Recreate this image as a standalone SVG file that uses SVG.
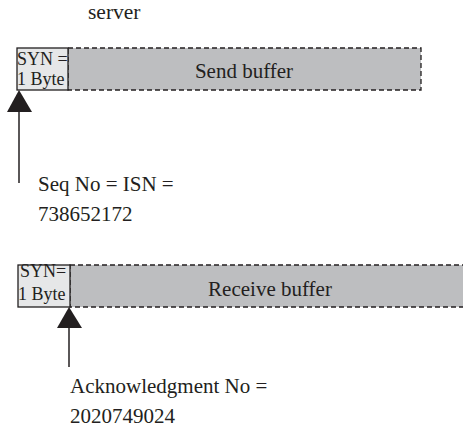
<svg xmlns="http://www.w3.org/2000/svg" width="463" height="429" viewBox="0 0 463 429">
<style>
.buf{fill:#bdbec0;stroke:#231f20;stroke-width:1.3;stroke-dasharray:5,3}
.syn{fill:#e6e7e8;stroke:#231f20;stroke-width:1.3}
.line{stroke:#231f20;stroke-width:1.5;fill:none}
.head{fill:#231f20}
</style>
<rect width="463" height="429" fill="#fff"/>
<g font-family="'Liberation Serif', 'Times New Roman', Times, serif" fill="#231f20">
<text x="88" y="19" font-size="21.5">server</text>
<g id="send-buffer">
<rect class="buf" x="68" y="48" width="353" height="42"/>
<text x="244" y="78" font-size="21" text-anchor="middle">Send buffer</text>
</g>
<g id="send-syn">
<rect class="syn" x="17" y="48" width="51" height="42"/>
<text x="17" y="65" font-size="18">SYN =</text>
<text x="17" y="85" font-size="18">1 Byte</text>
</g>
<g id="recv-buffer">
<rect class="buf" x="70" y="265" width="400" height="42"/>
<text x="270" y="296" font-size="21" text-anchor="middle">Receive buffer</text>
</g>
<g id="recv-syn">
<rect class="syn" x="18" y="265" width="52" height="42"/>
<text x="20" y="277" font-size="18">SYN=</text>
<text x="18" y="300" font-size="18">1 Byte</text>
</g>
<g id="seq-label">
<text x="38" y="191" font-size="21">Seq No = ISN =</text>
<text x="38" y="221" font-size="21">738652172</text>
</g>
<g id="ack-label">
<text x="70" y="393" font-size="21">Acknowledgment No =</text>
<text x="70" y="423" font-size="21">2020749024</text>
</g>
</g>
<g id="connectors">
<line class="line" x1="19" y1="183" x2="19" y2="110"/>
<polygon class="head" points="19,90 7,112 32,112"/>
<line class="line" x1="69" y1="367" x2="69" y2="326"/>
<polygon class="head" points="69,307 57,328 82,328"/>
</g>
</svg>
